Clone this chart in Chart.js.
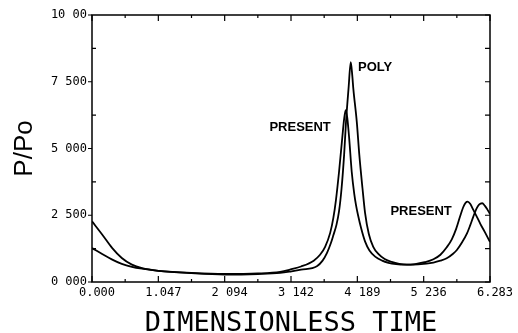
<!DOCTYPE html>
<html>
<head>
<meta charset="utf-8">
<script src="https://cdn.jsdelivr.net/npm/chart.js@4"></script>
<style>
  html, body { margin: 0; padding: 0; background: #fff; }
</style>
</head>
<body>
<canvas id="pressureChart" width="518" height="333"></canvas>
<script>
// tick labels as printed on the original plot
const xTickValues = [0, 1.047, 2.094, 3.142, 4.189, 5.236, 6.283];
const xTickLabels = ['0.000', '1.047', '2 094', '3 142', '4 189', '5 236', '6.283'];
const yTickValues = [0, 2.5, 5, 7.5, 10];
const yTickLabels = ['0 000', '2 500', '5 000', '7 500', '10 00'];

// PRESENT curve (dimensionless time, P/Po)
const presentTime = [0.00, 0.16, 0.32, 0.47, 0.63, 0.79, 1.05, 1.57, 2.09, 2.62, 2.97, 3.15, 3.30, 3.50, 3.60, 3.68, 3.76, 3.81, 3.85, 3.90, 3.95, 3.98, 4.005, 4.03, 4.06, 4.10, 4.14, 4.17, 4.20, 4.25, 4.31, 4.38, 4.47, 4.58, 4.68, 4.80, 4.95, 5.10, 5.25, 5.39, 5.50, 5.60, 5.68, 5.75, 5.81, 5.86, 5.90, 5.93, 5.97, 6.02, 6.08, 6.13, 6.20, 6.283];
const presentRatio = [1.27, 1.05, 0.84, 0.68, 0.57, 0.50, 0.42, 0.34, 0.30, 0.32, 0.38, 0.48, 0.58, 0.80, 1.02, 1.32, 1.84, 2.40, 3.05, 4.13, 5.38, 6.10, 6.44, 6.15, 5.38, 4.13, 3.30, 2.85, 2.50, 2.00, 1.52, 1.18, 0.95, 0.80, 0.72, 0.67, 0.65, 0.67, 0.74, 0.85, 1.02, 1.30, 1.60, 2.00, 2.45, 2.80, 2.97, 3.01, 2.93, 2.70, 2.42, 2.18, 1.88, 1.50];

// POLY curve
const polyTime = [0.00, 0.16, 0.32, 0.47, 0.63, 0.79, 1.05, 1.57, 2.09, 2.62, 2.97, 3.15, 3.30, 3.55, 3.64, 3.71, 3.77, 3.81, 3.86, 3.90, 3.94, 3.98, 4.01, 4.05, 4.085, 4.11, 4.125, 4.18, 4.22, 4.27, 4.31, 4.37, 4.44, 4.52, 4.62, 4.73, 4.85, 4.97, 5.15, 5.39, 5.50, 5.60, 5.70, 5.76, 5.84, 5.92, 5.97, 6.02, 6.07, 6.11, 6.16, 6.20, 6.24, 6.283];
const polyRatio = [2.27, 1.78, 1.27, 0.90, 0.65, 0.52, 0.42, 0.33, 0.28, 0.30, 0.34, 0.40, 0.46, 0.59, 0.80, 1.09, 1.45, 1.75, 2.15, 2.65, 3.51, 4.76, 6.00, 7.25, 8.23, 7.70, 7.25, 6.00, 4.76, 3.51, 2.60, 1.80, 1.32, 1.05, 0.86, 0.75, 0.68, 0.65, 0.66, 0.73, 0.80, 0.89, 1.06, 1.20, 1.48, 1.82, 2.12, 2.45, 2.75, 2.90, 2.95, 2.86, 2.72, 2.55];

function toPoints(xs, ys) {
    return xs.map((v, i) => ({ x: v, y: ys[i] }));
}

const frameTicks = {
    id: 'frameTicks',
    afterDraw(chart) {
        const { ctx, chartArea: a, scales: { x, y } } = chart;
        ctx.save();
        ctx.strokeStyle = '#000';
        ctx.lineWidth = 1.5;
        ctx.strokeRect(a.left, a.top, a.right - a.left, a.bottom - a.top);

        ctx.lineWidth = 1.2;
        ctx.beginPath();
        for (let i = 0; i <= 12; i++) {
            const px = x.getPixelForValue(i * Math.PI / 6);
            const len = i % 2 === 0 ? 6 : 3;
            ctx.moveTo(px, a.bottom); ctx.lineTo(px, a.bottom - len);
            ctx.moveTo(px, a.top); ctx.lineTo(px, a.top + len);
        }
        for (let i = 0; i <= 8; i++) {
            const py = y.getPixelForValue(i * 1.25);
            if (i % 2 === 0) {
                ctx.moveTo(a.left - 4, py); ctx.lineTo(a.left, py);
            } else {
                ctx.moveTo(a.left, py); ctx.lineTo(a.left + 4, py);
            }
            ctx.moveTo(a.right, py); ctx.lineTo(a.right - 5, py);
        }
        ctx.stroke();

        // curve labels
        ctx.fillStyle = '#000';
        ctx.font = 'bold 13px "Liberation Sans", Arial, sans-serif';
        ctx.textBaseline = 'middle';
        ctx.textAlign = 'left';
        ctx.fillText('POLY', x.getPixelForValue(4.20), y.getPixelForValue(8.05));
        ctx.textAlign = 'right';
        ctx.fillText('PRESENT', x.getPixelForValue(3.77), y.getPixelForValue(5.80));
        ctx.fillText('PRESENT', x.getPixelForValue(5.68), y.getPixelForValue(2.66));
        ctx.restore();
    }
};

Chart.defaults.font.family = '"DejaVu Sans Mono", monospace';
Chart.defaults.color = '#000';

const ctx = document.getElementById('pressureChart').getContext('2d');

new Chart(ctx, {
    type: 'scatter',
    data: {
        datasets: [
            {
                label: 'PRESENT',
                data: toPoints(presentTime, presentRatio),
                showLine: true,
                borderColor: '#000',
                borderWidth: 1.8,
                pointRadius: 0,
                cubicInterpolationMode: 'monotone',
                fill: false
            },
            {
                label: 'POLY',
                data: toPoints(polyTime, polyRatio),
                showLine: true,
                borderColor: '#000',
                borderWidth: 1.8,
                pointRadius: 0,
                cubicInterpolationMode: 'monotone',
                fill: false
            }
        ]
    },
    options: {
        responsive: false,
        animation: false,
        layout: {
            padding: { left: 0, right: 28, top: 15, bottom: 0 }
        },
        plugins: {
            legend: { display: false },
            tooltip: { enabled: false }
        },
        scales: {
            x: {
                type: 'linear',
                min: 0,
                max: 6.283,
                grid: { display: false, drawTicks: false },
                border: { display: false },
                afterBuildTicks: (scale) => {
                    scale.ticks = xTickValues.map(v => ({ value: v }));
                },
                afterFit: (scale) => { scale.height = 51; },
                ticks: {
                    autoSkip: false,
                    maxRotation: 0,
                    padding: 4,
                    labelOffset: 5,
                    font: { size: 12 },
                    callback: (value, index) => xTickLabels[index]
                },
                title: {
                    display: true,
                    text: 'DIMENSIONLESS TIME',
                    padding: { top: 0, bottom: 0 },
                    font: { size: 27, lineHeight: 0.7 }
                }
            },
            y: {
                type: 'linear',
                min: 0,
                max: 10,
                grid: { display: false, drawTicks: false },
                border: { display: false },
                afterBuildTicks: (scale) => {
                    scale.ticks = yTickValues.map(v => ({ value: v }));
                },
                afterFit: (scale) => { scale.width = 92; },
                ticks: {
                    autoSkip: false,
                    padding: 5,
                    font: { size: 12 },
                    callback: (value, index) => yTickLabels[index]
                },
                title: {
                    display: true,
                    text: 'P/Po',
                    padding: { top: 12, bottom: 0 },
                    font: { family: '"Liberation Sans", Arial, sans-serif', size: 26, lineHeight: 1 }
                }
            }
        }
    },
    plugins: [frameTicks]
});
</script>
</body>
</html>
